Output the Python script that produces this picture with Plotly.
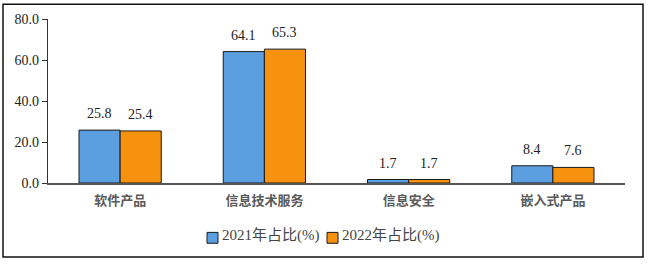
import plotly.graph_objects as go

categories = ["软件产品", "信息技术服务", "信息安全", "嵌入式产品"]
share_2021 = [25.8, 64.1, 1.7, 8.4]
share_2022 = [25.4, 65.3, 1.7, 7.6]
series_names = ["2021年占比(%)", "2022年占比(%)"]
series_colors = ["#5B9FE0", "#F7920F"]
y_ticks = [0, 20, 40, 60, 80]

W, H = 648, 264
ml, mr, mt, mb = 48, 23, 17, 81
pw, ph = W - ml - mr, H - mt - mb
bargap = 0.43
bar_px = pw / len(categories) * (1 - bargap) / 2

serif = "Liberation Serif, Times New Roman, serif"
label_font = dict(family=serif, size=14, color="#222")


def px_to_paper_x(px):
    return (px - ml) / pw


def px_to_paper_y(py):
    return (H - mb - py) / ph


fig = go.Figure()
series = [(series_names[0], share_2021, series_colors[0], -1),
          (series_names[1], share_2022, series_colors[1], 1)]
for name, vals, color, side in series:
    fig.add_trace(go.Bar(
        x=categories, y=vals, name=name, showlegend=False,
        marker=dict(color=color, line=dict(color="#1a1a1a", width=1)),
    ))
    for c, v in zip(categories, vals):
        fig.add_annotation(x=c, y=v, text=f"{v:.1f}", showarrow=False,
                           xanchor="center", yanchor="bottom",
                           xshift=side * bar_px / 2, yshift=7,
                           font=label_font)

# legend drawn as key squares + labels (compact spacing as in the reference)
legend_starts = [207, 327]
for name, color, lx in zip(series_names, series_colors, legend_starts):
    fig.add_shape(type="rect", xref="paper", yref="paper",
                  x0=px_to_paper_x(lx), x1=px_to_paper_x(lx + 11),
                  y0=px_to_paper_y(244), y1=px_to_paper_y(233),
                  line=dict(color="#1a1a1a", width=1), fillcolor=color)
    fig.add_annotation(xref="paper", yref="paper",
                       x=px_to_paper_x(lx + 13), y=px_to_paper_y(236),
                       text=name, showarrow=False, xanchor="left", yanchor="middle",
                       font=dict(family="Liberation Serif, Noto Sans CJK SC", size=15, color="#444"))

# outer frame around the whole picture
fig.add_shape(type="rect", xref="paper", yref="paper",
              x0=px_to_paper_x(3), x1=px_to_paper_x(643),
              y0=px_to_paper_y(258), y1=px_to_paper_y(2),
              line=dict(color="#111", width=1.5), fillcolor="rgba(0,0,0,0)")

fig.update_layout(
    width=W, height=H,
    margin=dict(l=ml, r=mr, t=mt, b=mb),
    paper_bgcolor="white", plot_bgcolor="white",
    barmode="group", bargap=bargap, bargroupgap=0,
    showlegend=False,
    xaxis=dict(showline=True, linecolor="#555", linewidth=1.5,
               tickfont=dict(family="Noto Sans CJK SC", size=13, color="#5a5a5a", weight="bold"),
               ticks="", ticklabelstandoff=5, showgrid=False),
    yaxis=dict(range=[0, 80], tickvals=y_ticks, tickformat=".1f",
               showline=True, linecolor="#333", linewidth=1.2,
               ticks="outside", ticklen=5, tickcolor="#333",
               tickfont=dict(family=serif, size=14, color="#222"),
               showgrid=False, zeroline=False),
)

fig.write_html("out.html")
